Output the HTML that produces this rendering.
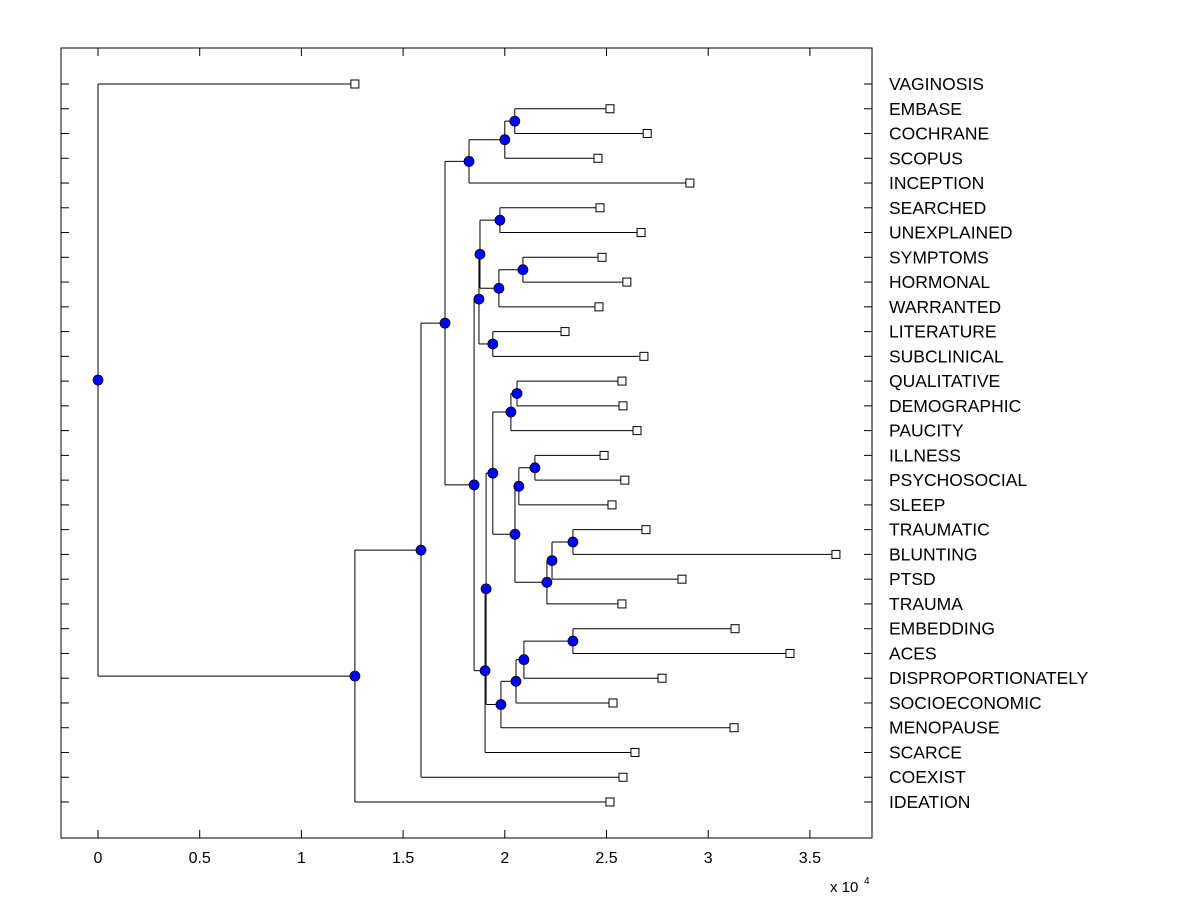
<!DOCTYPE html>
<html><head><meta charset="utf-8"><style>body{margin:0;background:#fff}svg{display:block}</style></head>
<body>
<svg id="chart" width="1200" height="900" xmlns="http://www.w3.org/2000/svg" font-family="Liberation Sans, sans-serif">
<rect width="1200" height="900" fill="#fff"/>
<g id="plot"></g>
<text x="830" y="892" font-size="15">x 10</text>
<text x="864" y="884" font-size="10">4</text>
</svg>
<script>
const labels = ["VAGINOSIS","EMBASE","COCHRANE","SCOPUS","INCEPTION","SEARCHED","UNEXPLAINED","SYMPTOMS","HORMONAL","WARRANTED","LITERATURE","SUBCLINICAL","QUALITATIVE","DEMOGRAPHIC","PAUCITY","ILLNESS","PSYCHOSOCIAL","SLEEP","TRAUMATIC","BLUNTING","PTSD","TRAUMA","EMBEDDING","ACES","DISPROPORTIONATELY","SOCIOECONOMIC","MENOPAUSE","SCARCE","COEXIST","IDEATION"];
const leafValues = [1.263,2.517,2.70,2.458,2.91,2.468,2.67,2.478,2.60,2.463,2.296,2.684,2.576,2.581,2.65,2.488,2.59,2.527,2.694,3.628,2.871,2.576,3.132,3.402,2.773,2.532,3.127,2.64,2.581,2.517];
// internal nodes: [name, value, childA, childB]; children are leaf labels or node names
const nodes = [
 ["G",2.049,"EMBASE","COCHRANE"],["F",2.0,"G","SCOPUS"],["D",1.824,"F","INCEPTION"],
 ["L",1.976,"SEARCHED","UNEXPLAINED"],["N",2.089,"SYMPTOMS","HORMONAL"],["M",1.971,"N","WARRANTED"],
 ["J",1.878,"L","M"],["K",1.941,"LITERATURE","SUBCLINICAL"],["H",1.873,"J","K"],
 ["U",2.06,"QUALITATIVE","DEMOGRAPHIC"],["S",2.03,"U","PAUCITY"],
 ["X",2.148,"ILLNESS","PSYCHOSOCIAL"],["V",2.069,"X","SLEEP"],
 ["Z",2.335,"TRAUMATIC","BLUNTING"],["Y",2.232,"Z","PTSD"],["W",2.207,"Y","TRAUMA"],
 ["T",2.05,"V","W"],["Q",1.941,"S","T"],
 ["CC",2.335,"EMBEDDING","ACES"],["BB",2.094,"CC","DISPROPORTIONATELY"],["AA",2.055,"BB","SOCIOECONOMIC"],
 ["R",1.981,"AA","MENOPAUSE"],["O",1.908,"Q","R"],["I",1.903,"O","SCARCE"],
 ["E",1.849,"H","I"],["C",1.706,"D","E"],["B",1.588,"C","COEXIST"],["A",1.263,"B","IDEATION"],
 ["ROOT",0,"VAGINOSIS","A"]
];
const xTicks = [0,0.5,1,1.5,2,2.5,3,3.5];
const xTickLabels = ["0","0.5","1","1.5","2","2.5","3","3.5"];

const X0=61,X1=872,Y0=48,Y1=838;
const xs = v => 98 + v*203.4;
const ys = i => 84 + i*(802-84)/(labels.length-1);
const NS="http://www.w3.org/2000/svg";
const g=document.getElementById('plot');
function mk(t,a){const e=document.createElementNS(NS,t);for(const k in a)e.setAttribute(k,a[k]);g.appendChild(e);return e;}

const box=mk('rect',{x:X0,y:Y0,width:X1-X0,height:Y1-Y0,fill:'none',stroke:'#000','stroke-width':1});



xTicks.forEach((t,i)=>{
 const x=xs(t);
 const a=mk('line',{x1:x,x2:x,y1:Y1,y2:Y1-8,stroke:'#000'});
 
 
 const b=mk('line',{x1:x,x2:x,y1:Y0,y2:Y0+8,stroke:'#000'});
 
 
 const tx=mk('text',{x:x,y:863,'text-anchor':'middle','font-size':16});
 tx.textContent=xTickLabels[i];
 
 
});

const pos={};
labels.forEach((l,i)=>{
 const y=ys(i);
 pos[l]={x:xs(leafValues[i]),y:y,leaf:true};
 const a=mk('line',{x1:X0,x2:X0+8,y1:y,y2:y,stroke:'#000'});
 
 
 const b=mk('line',{x1:X1-8,x2:X1,y1:y,y2:y,stroke:'#000'});
 
 
 const t=mk('text',{x:889,y:y+6,'font-size':17.5});
 t.textContent=l;
 
 
});
nodes.forEach(n=>{
 const a=pos[n[2]],b=pos[n[3]];
 pos[n[0]]={x:xs(n[1]),y:(a.y+b.y)/2,leaf:false};
});
const dots=[];
nodes.forEach(n=>{
 const p=pos[n[0]],a=pos[n[2]],b=pos[n[3]];
 const v=mk('line',{x1:p.x,x2:p.x,y1:a.y,y2:b.y,stroke:'#000'});
 
 
 [a,b].forEach(c=>{
  const h=mk('line',{x1:p.x,x2:c.x,y1:c.y,y2:c.y,stroke:'#000'});
  
  
 });
 dots.push(p);
});
labels.forEach(l=>{
 const p=pos[l];
 const r=mk('rect',{x:p.x-4,y:p.y-4,width:8,height:8,fill:'#fff',stroke:'#000'});
 
 
});
dots.forEach(p=>{
 const c=mk('circle',{cx:p.x,cy:p.y,r:5,fill:'#0000ff',stroke:'#000','stroke-width':0.8});
 
 
});
</script>
</body></html>
